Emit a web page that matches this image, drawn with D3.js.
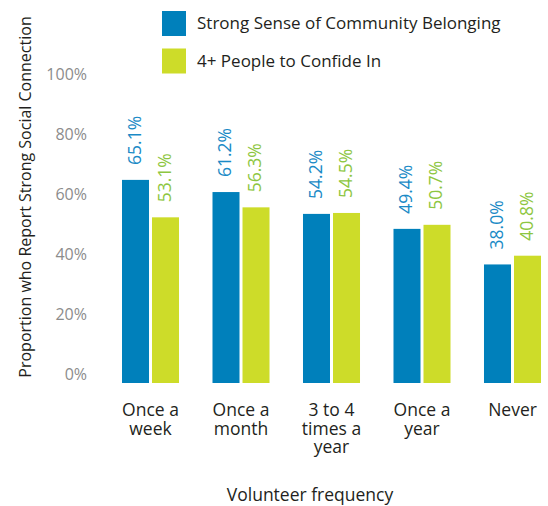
<!DOCTYPE html>
<html>
<head>
<meta charset="utf-8">
<script src="https://cdn.jsdelivr.net/npm/d3@7"></script>
<style>
  body { margin: 0; background: #fff; }
  svg text { font-family: "Open Sans", sans-serif; }
</style>
</head>
<body>
<div id="chart"></div>
<script>
// données
const categories = ['Once a week', 'Once a month', '3 to 4 times a year', 'Once a year', 'Never'];
const categoryLines = [['Once a', 'week'], ['Once a', 'month'], ['3 to 4', 'times a', 'year'], ['Once a', 'year'], ['Never']];
const series = ['Strong Sense of Community Belonging', '4+ People to Confide In'];
const belonging = [65.1, 61.2, 54.2, 49.4, 38.0];
const confide = [53.1, 56.3, 54.5, 50.7, 40.8];
const tickValues = [0, 20, 40, 60, 80, 100];

const barColors = ['#0080bb', '#cddc29'];
const labelColors = ['#1a8ac6', '#8dc641'];

const width = 548, height = 506;

const svg = d3.select('#chart')
  .append('svg')
  .attr('width', width)
  .attr('height', height);

// échelles
const x0 = d3.scaleBand()
  .domain(categories)
  .range([122, 541])
  .paddingInner(0.37)
  .paddingOuter(0);

const x1 = d3.scaleBand()
  .domain([0, 1])
  .range([0, x0.bandwidth()])
  .paddingInner(0.1);

// les barres et l'axe ne sont pas alignés dans l'original
const yBar = d3.scaleLinear().domain([0, 100]).range([383, 71]);
const yAxis = d3.scaleLinear().domain([0, 100]).range([374.3, 74.3]);

// axe y
const axis = svg.append('g')
  .attr('transform', 'translate(87,0)')
  .call(d3.axisLeft(yAxis).tickValues(tickValues).tickSize(0).tickPadding(0).tickFormat(d => d + '%'));
axis.select('.domain').remove();
axis.selectAll('text')
  .attr('font-family', '"Open Sans", sans-serif')
  .attr('font-size', 16)
  .attr('fill', '#8c8c8c');

// barres
const rows = categories.map((c, i) => ({ cat: c, vals: [belonging[i], confide[i]] }));

const groups = svg.append('g')
  .selectAll('g')
  .data(rows)
  .join('g')
  .attr('transform', d => 'translate(' + x0(d.cat) + ',0)');

groups.selectAll('rect')
  .data(d => d.vals.map((v, k) => ({ v, k })))
  .join('rect')
  .attr('x', d => x1(d.k))
  .attr('y', d => yBar(d.v))
  .attr('width', x1.bandwidth())
  .attr('height', d => yBar(0) - yBar(d.v))
  .attr('fill', d => barColors[d.k]);

groups.selectAll('text.val')
  .data(d => d.vals.map((v, k) => ({ v, k })))
  .join('text')
  .attr('class', 'val')
  .attr('transform', d => 'translate(' + (x1(d.k) + x1.bandwidth() / 2 - 1) + ',' + (yBar(d.v) - 15) + ') rotate(-90)')
  .attr('dy', '0.36em')
  .attr('font-size', 17.5)
  .attr('fill', d => labelColors[d.k])
  .text(d => d.v.toFixed(1) + '%');

// étiquettes x, une ligne par texte
const xGroups = svg.append('g')
  .selectAll('g')
  .data(categories)
  .join('g')
  .attr('transform', d => 'translate(' + (x0(d) + x0.bandwidth() / 2) + ',0)');

xGroups.selectAll('text')
  .data((d, i) => categoryLines[i])
  .join('text')
  .attr('y', (d, i) => 410 + i * 18.5)
  .attr('dy', '0.35em')
  .attr('text-anchor', 'middle')
  .attr('font-size', 17.5)
  .attr('fill', '#231f20')
  .text(d => d);

// titres des axes
svg.append('text')
  .attr('x', 310)
  .attr('y', 495)
  .attr('dy', '0.35em')
  .attr('text-anchor', 'middle')
  .attr('font-size', 17.5)
  .attr('fill', '#231f20')
  .text('Volunteer frequency');

svg.append('text')
  .attr('transform', 'translate(25,197) rotate(-90)')
  .attr('dy', '0.35em')
  .attr('text-anchor', 'middle')
  .attr('font-size', 16)
  .attr('fill', '#231f20')
  .text('Proportion who Report Strong Social Connection');

// légende
const legend = svg.append('g')
  .selectAll('g')
  .data(series)
  .join('g')
  .attr('transform', (d, i) => 'translate(162,' + (11 + i * 37.5) + ')');

legend.append('rect')
  .attr('width', 24)
  .attr('height', 25)
  .attr('fill', (d, i) => barColors[i]);

legend.append('text')
  .attr('x', 35)
  .attr('y', 12.5)
  .attr('dy', '0.35em')
  .attr('font-size', 17)
  .attr('fill', '#231f20')
  .text(d => d);
</script>
</body>
</html>
